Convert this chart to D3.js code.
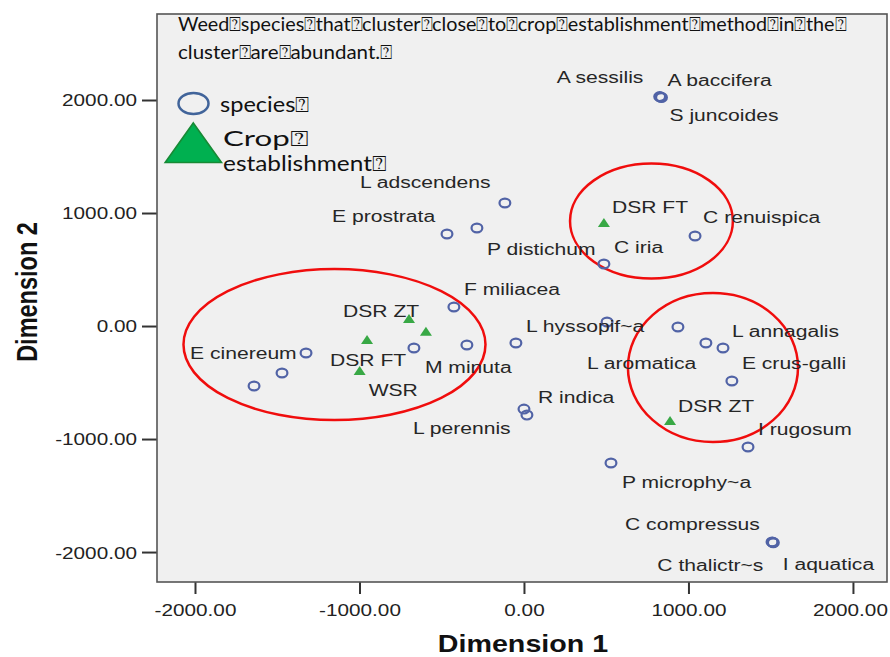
<!DOCTYPE html>
<html>
<head>
<meta charset="utf-8">
<script src="https://cdn.jsdelivr.net/npm/d3@7/dist/d3.min.js"></script>
<style>
  html, body { margin: 0; padding: 0; background: #fff; }
  svg { display: block; }
  .pt-label { font-family: "Liberation Sans", Arial, sans-serif; font-size: 17.3px; fill: #262626; }
  .tick text { font-family: "Liberation Sans", Arial, sans-serif; font-size: 17px; fill: #222; }
  .axis-title { font-family: "Liberation Sans", Arial, sans-serif; font-size: 23.5px; font-weight: bold; fill: #111; }
  .note { font-family: Lato, "Open Sans", sans-serif; fill: #111; }
</style>
</head>
<body>
<svg id="chart" width="890" height="657"></svg>
<script>
// species points (Dimension 1 / Dimension 2), "" = label hidden in the original
const speciesNames = ['A sessilis', 'A baccifera', 'S juncoides', 'L adscendens', 'P distichum',
    'E prostrata', 'C iria', 'C renuispica', 'F miliacea', 'L hyssopif~a', '', 'L aromatica',
    'L annagalis', 'E crus-galli', '', 'M minuta', '', 'E cinereum', '', '', 'R indica',
    'L perennis', 'I rugosum', 'P microphy~a', 'C compressus', 'C thalictr~s', 'I aquatica'];
const speciesDim1 = [825, 836, 830, -116, -286, -468, 486, 1040, -426, 505, 936, 1106,
    1210, 1264, -49, -347, -669, -1325, -1471, -1641, 0, 18, 1362, 529, 1508, 1516, 1512];
const speciesDim2 = [2030, 2022, 2026, 1088, 867, 814, 549, 796, 168, 35, -9, -150,
    -195, -487, -150, -168, -195, -239, -416, -531, -735, -788, -1071, -1212, -1910, -1918, -1914];

// crop establishment points
const cropNames = ['DSR ZT', '', 'DSR FT', 'WSR', 'DSR FT', 'DSR ZT'];
const cropDim1 = [-699, -596, -954, -999, 486, 888];
const cropDim2 = [62, -50, -124, -398, 912, -841];

// red cluster ellipses (centre and half axes in data units)
const clusterCx = [-1152, 775, 1149];
const clusterCy = [-164, 929, -367];
const clusterRx = [918, 495, 517];
const clusterRy = [668, 509, 659];

const xTicks = [-2000, -1000, 0, 1000, 2000];
const yTicks = [-2000, -1000, 0, 1000, 2000];

const noteLines = ['Weed\u2370species\u2370that\u2370cluster\u2370close\u2370to\u2370crop\u2370establishment\u2370method\u2370in\u2370the\u2370',
    'cluster\u2370are\u2370abundant.\u2370'];
const legendLabels = ['species\u2370', 'Crop\u2370', 'establishment\u2370'];

// label placement (pixel offset of text start / baseline from its marker)
const speciesLabelOffset = [[-103, -14], [6, -12], [9, 24], [-145, -15], [10, 27],
    [-115, -12], [10, -11], [8, -13], [10, -12], [-81, 10], [0, 0], [-119, 26],
    [9, -11], [10, -12], [0, 0], [-42, 28], [0, 0], [-116, 6], [0, 0], [0, 0], [14, -6],
    [-114, 19], [10, -12], [11, 25], [-147, -12], [-116, 28], [10, 28]];
const cropLabelOffset = [[-66, -2], [0, 0], [-37, 26], [9, 25], [8, -10], [8, -9]];

// the reference is stretched horizontally, text gets the same stretch
const SX = 1.22;

const svg = d3.select('#chart');
const plot = { left: 157, right: 887, top: 14, bottom: 582 };

const x = d3.scaleLinear().domain([-2231, 2207]).range([plot.left, plot.right]);
const y = d3.scaleLinear().domain([-2265, 2761]).range([plot.bottom, plot.top]);

function stretched(sel, px, py) {
    return sel.attr('transform', `translate(${px},${py}) scale(${SX},1)`);
}

// plot background
svg.append('rect')
    .attr('x', plot.left).attr('y', plot.top)
    .attr('width', plot.right - plot.left).attr('height', plot.bottom - plot.top)
    .attr('fill', '#f0f0f0');

// axes
const xAxis = d3.axisBottom(x).tickValues(xTicks).tickSize(12).tickFormat(d => d.toFixed(2));
const yAxis = d3.axisLeft(y).tickValues(yTicks).tickSize(15).tickFormat(d => d.toFixed(2));

const gx = svg.append('g').attr('transform', `translate(0,${plot.bottom})`).call(xAxis);
gx.select('.domain').remove();
gx.selectAll('.tick line').attr('stroke', '#333').attr('stroke-width', 2);
gx.selectAll('.tick text')
    .attr('y', 0).attr('dy', 0)
    .attr('transform', d => `translate(${d === 2000 ? -3 : 0},34) scale(${SX},1)`);

const gy = svg.append('g').attr('transform', `translate(${plot.left},0)`).call(yAxis);
gy.select('.domain').remove();
gy.selectAll('.tick line').attr('stroke', '#333').attr('stroke-width', 2);
gy.selectAll('.tick text')
    .attr('x', 0).attr('dy', '0.35em')
    .attr('transform', `translate(-20,0) scale(${SX},1)`);

stretched(svg.append('text').attr('class', 'axis-title').attr('text-anchor', 'middle')
    .text('Dimension 1'), 523, 652);
svg.append('text').attr('class', 'axis-title').attr('text-anchor', 'middle')
    .attr('transform', `translate(37,292) scale(${SX},1) rotate(-90)`)
    .text('Dimension 2');

// cluster ellipses
const clusters = clusterCx.map((cx, i) => ({ cx, cy: clusterCy[i], rx: clusterRx[i], ry: clusterRy[i] }));
svg.append('g').selectAll('ellipse')
    .data(clusters)
    .join('ellipse')
    .attr('cx', d => x(d.cx))
    .attr('cy', d => y(d.cy))
    .attr('rx', d => x(d.cx + d.rx) - x(d.cx))
    .attr('ry', d => y(d.cy) - y(d.cy + d.ry))
    .attr('fill', 'none')
    .attr('stroke', '#f00d0d')
    .attr('stroke-width', 2.5);

// species markers
const species = speciesNames.map((name, i) => ({
    name, d1: speciesDim1[i], d2: speciesDim2[i], off: speciesLabelOffset[i]
}));
svg.append('g').selectAll('ellipse')
    .data(species)
    .join('ellipse')
    .attr('cx', d => x(d.d1))
    .attr('cy', d => y(d.d2))
    .attr('rx', 5.4)
    .attr('ry', 4.4)
    .attr('fill', 'none')
    .attr('stroke', '#5163a6')
    .attr('stroke-width', 2.2);

// crop establishment markers
const crops = cropNames.map((name, i) => ({
    name, d1: cropDim1[i], d2: cropDim2[i], off: cropLabelOffset[i]
}));
svg.append('g').selectAll('path')
    .data(crops)
    .join('path')
    .attr('transform', d => `translate(${x(d.d1)},${y(d.d2)})`)
    .attr('d', 'M0,-5L6,4L-6,4Z')
    .attr('fill', '#38a845');

// point labels
const labelled = species.concat(crops).filter(d => d.name !== '');
svg.append('g').selectAll('text')
    .data(labelled)
    .join('text')
    .attr('class', 'pt-label')
    .attr('transform', d => `translate(${x(d.d1) + d.off[0]},${y(d.d2) + d.off[1]}) scale(${SX},1)`)
    .text(d => d.name);

// note text
const noteBaselines = [31, 59];
const noteWidths = [668, 214];
noteLines.forEach((line, i) => {
    svg.append('text').attr('class', 'note')
        .attr('x', 178).attr('y', noteBaselines[i])
        .attr('font-size', 19)
        .attr('textLength', noteWidths[i]).attr('lengthAdjust', 'spacingAndGlyphs')
        .text(line);
});

// legend
svg.append('ellipse')
    .attr('cx', 193.5).attr('cy', 103.5).attr('rx', 15).attr('ry', 10.5)
    .attr('fill', 'none').attr('stroke', '#41649a').attr('stroke-width', 2.5);
svg.append('path')
    .attr('d', 'M193.3,123L221.5,162.5L165.2,162.5Z')
    .attr('fill', '#00b050').attr('stroke', '#178a35').attr('stroke-width', 1.6);
const legendX = [220, 223, 223];
const legendBaselines = [112, 146, 171];
const legendWidths = [90, 86, 164];
legendLabels.forEach((t, i) => {
    svg.append('text').attr('class', 'note')
        .attr('x', legendX[i]).attr('y', legendBaselines[i])
        .attr('font-size', 21)
        .attr('textLength', legendWidths[i]).attr('lengthAdjust', 'spacingAndGlyphs')
        .text(t);
});

// frame on top
svg.append('rect')
    .attr('x', plot.left).attr('y', plot.top)
    .attr('width', plot.right - plot.left).attr('height', plot.bottom - plot.top)
    .attr('fill', 'none')
    .attr('stroke', '#555')
    .attr('stroke-width', 1.6);
</script>
</body>
</html>
